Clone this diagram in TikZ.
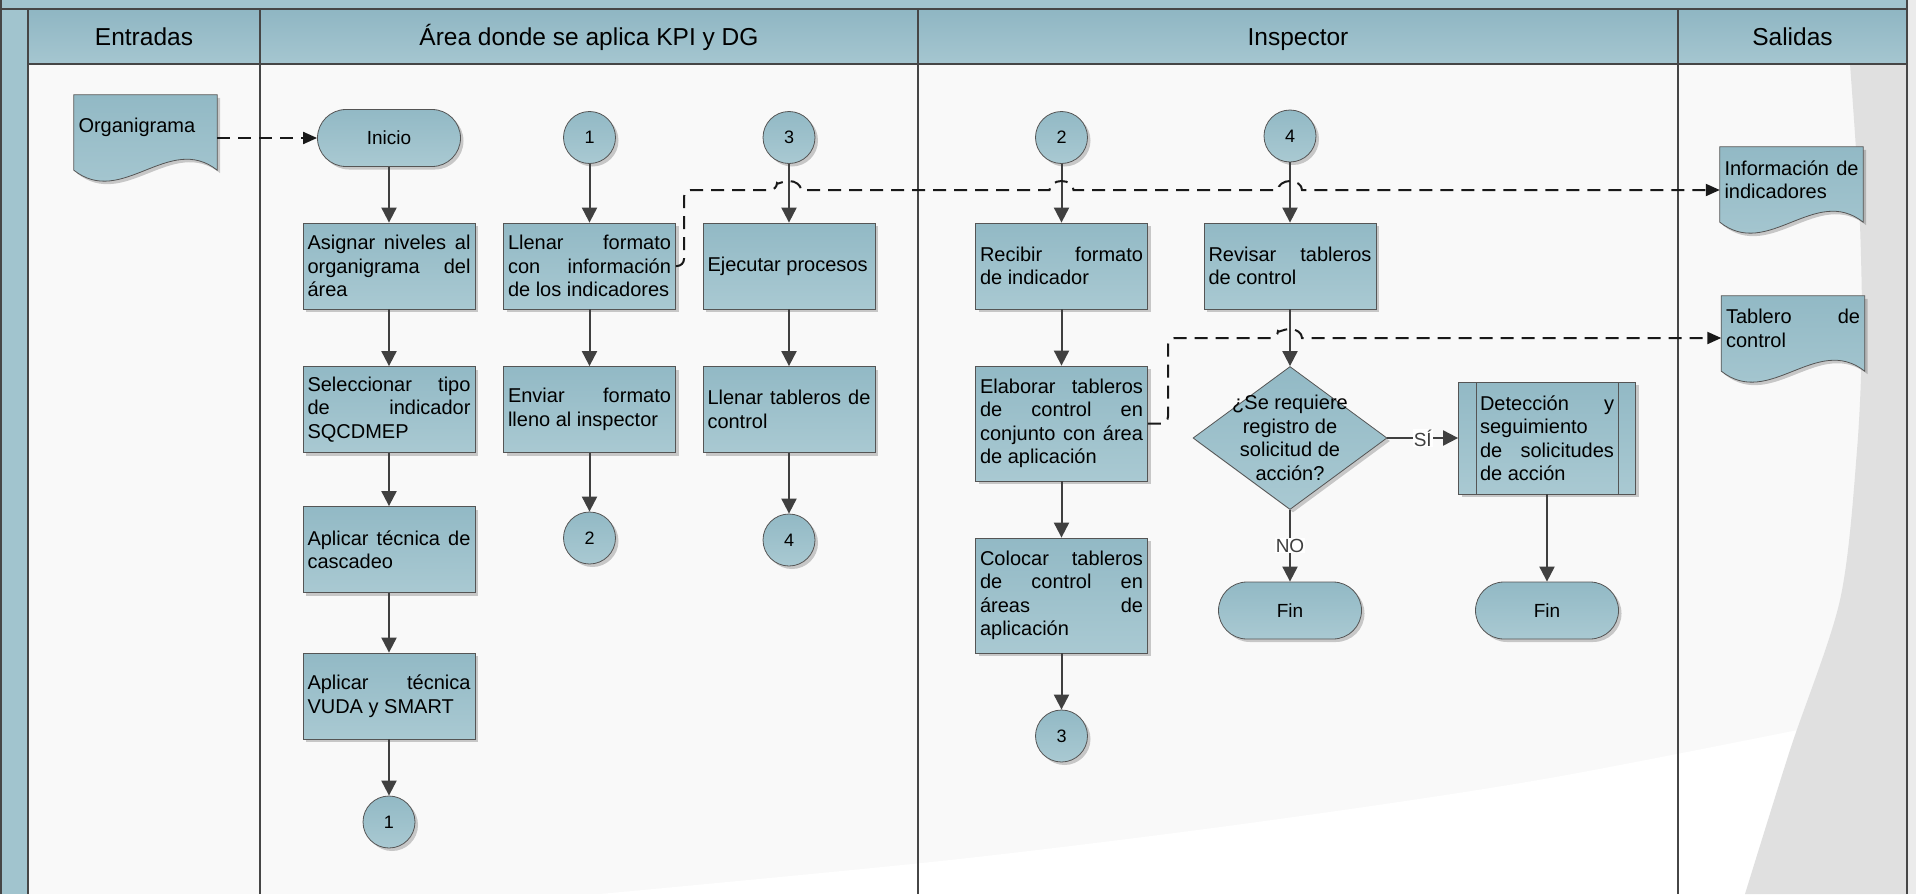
\documentclass[tikz,border=0pt]{standalone}
\usepackage{fontspec}
\setmainfont{Liberation Sans}
\usetikzlibrary{positioning,calc,arrows.meta,shapes.geometric,shadows}
\pgfdeclarelayer{back}
\pgfdeclarelayer{docs}
\pgfsetlayers{back,docs,main}
\setlength{\parindent}{0pt}

\definecolor{hdrtop}{RGB}{143,182,195}
\definecolor{hdrbot}{RGB}{165,198,208}
\definecolor{boxtop}{RGB}{146,185,197}
\definecolor{boxbot}{RGB}{169,201,210}
\definecolor{boxline}{RGB}{85,85,85}
\definecolor{arrowgray}{RGB}{64,64,64}
\definecolor{lanegray}{RGB}{70,70,70}
\definecolor{pagebg}{RGB}{249,249,249}
\definecolor{swoosh}{RGB}{224,224,224}
\definecolor{rightgray}{RGB}{235,235,235}
\definecolor{bandblue}{RGB}{161,196,206}

\newcommand{\boxfont}{\fontsize{20}{23.5}\selectfont\hyphenpenalty=10000\tolerance=10000}
\newcommand{\termfont}{\fontsize{19}{22}\selectfont}
\newcommand{\connfont}{\fontsize{18}{21}\selectfont}
\newcommand{\hdrfont}{\fontsize{24.5}{29}\selectfont}
\newcommand{\labelfont}{\fontsize{19}{22}\selectfont}

% wavy bottom of a document node
\newcommand{\docwave}[1]{%
  \draw[docshape] (#1.north west) -- (#1.north east) -- ($(#1.south east)+(0,10)$)
    .. controls ($(#1.south east)+(-48,-28)$) and ($(#1.south west)+(48,48)$) .. ($(#1.south west)+(0,10)$) -- cycle;}

\begin{document}
\begin{tikzpicture}[x=1pt,y=-1pt,>={Triangle[length=15pt,width=15pt]}]

	\tikzstyle{flow}=[draw=boxline,line width=0.8pt,top color=boxtop,bottom color=boxbot,
	drop shadow={shadow xshift=3pt,shadow yshift=-3pt,fill=black,opacity=0.2},font=\boxfont,inner sep=0pt]
	\tikzstyle{box}=[flow,rectangle,minimum width=172pt,minimum height=86pt,text width=163pt,align=justify]
	\tikzstyle{tallbox}=[box,minimum height=115pt]
	\tikzstyle{terminal}=[flow,rectangle,rounded corners=28.5pt,minimum width=143pt,minimum height=57pt,font=\termfont]
	\tikzstyle{connector}=[flow,circle,minimum size=52pt,font=\connfont]
	\tikzstyle{decision}=[flow,diamond,minimum width=194pt,minimum height=143pt]
	\tikzstyle{dectext}=[font=\boxfont,align=center,inner sep=0pt]
	\tikzstyle{subproc}=[box,minimum width=177pt,minimum height=112pt,text width=134pt,
	path picture={\draw[boxline,line width=0.8pt]
		([xshift=17.5pt]path picture bounding box.north west) -- ([xshift=17.5pt]path picture bounding box.south west)
		([xshift=-17.5pt]path picture bounding box.north east) -- ([xshift=-17.5pt]path picture bounding box.south east);}]
	\tikzstyle{doc}=[rectangle,minimum width=143pt,minimum height=65pt,text width=134pt,align=justify,font=\boxfont,inner sep=0pt]
	\tikzstyle{docshape}=[flow]
	\tikzstyle{header}=[font=\hdrfont,anchor=base]
	\tikzstyle{lane}=[draw=lanegray,line width=1.6pt]
	\tikzstyle{flowline}=[arrowgray,line width=2pt,->]
	\tikzstyle{dashline}=[black!90,line width=2pt,dash pattern=on 13pt off 8pt,-{Triangle[length=14pt,width=12pt]}]
	\tikzstyle{branch}=[fill=white,inner sep=1pt,font=\labelfont]

	\useasboundingbox (0,0) rectangle (1916,894);

	% lanes
	\begin{pgfonlayer}{back}
		\fill[white] (0,0) rectangle (1916,894);
		\fill[pagebg] (28,64) rectangle (1907,894);
		\fill[white] plot[smooth] coordinates {(600,894) (950,860) (1250,823) (1550,778) (1907,708)} -- (1907,894) -- cycle;
		\fill[swoosh] plot[smooth] coordinates {(1850,64) (1859,200) (1862,330) (1857,450) (1840,600) (1790,750) (1745,894)} -- (1907,894) -- (1907,64) -- cycle;
		\fill[rightgray] (1907,0) rectangle (1916,894);
		\fill[bandblue] (0,0) rectangle (1907,9);
		\fill[bandblue] (0,9) rectangle (28,894);
		\shade[top color=hdrtop,bottom color=hdrbot] (28,9) rectangle (1907,64);
		\draw[lane] (0.8,0) -- (0.8,894);
		\draw[lane] (28,9) -- (28,894);
		\draw[lane] (0,9) -- (1907,9);
		\draw[lane] (28,64) -- (1907,64);
		\draw[lane] (260,9) -- (260,894);
		\draw[lane] (918,9) -- (918,894);
		\draw[lane] (1678,9) -- (1678,894);
		\draw[lane] (1907,0) -- (1907,894);
	\end{pgfonlayer}

	\node[header] (hentr) at (144,45) {Entradas};
	\node[header] (harea) at (589,45) {Área donde se aplica KPI y DG};
	\node[header] (hinsp) at (1298,45) {Inspector};
	\node[header] (hsal) at (1792.5,45) {Salidas};

	% Entradas:
	\node[doc] (org) at (145.5,127.5) {Organigrama};
	\begin{pgfonlayer}{docs}\docwave{org}\end{pgfonlayer}

	% Area:
	\node[terminal] (inicio) at (389,138) {Inicio};
	\node[box] (asig) at (389,266) {Asignar niveles al\linebreak organigrama del\linebreak área};
	\node[box] (sel) at (389,409.5) {Seleccionar tipo\linebreak de indicador\linebreak SQCDMEP};
	\node[box] (casc) at (389,549.5) {Aplicar técnica de\linebreak cascadeo};
	\node[box] (vuda) at (389,696) {Aplicar técnica\linebreak VUDA y SMART};
	\node[connector] (c1b) at (389,822) {1};

	\node[connector] (c1a) at (589.5,137.5) {1};
	\node[box] (llen) at (589.5,266) {Llenar formato\linebreak con información\linebreak de los indicadores};
	\node[box] (env) at (589.5,409.5) {Enviar formato\linebreak lleno al inspector};
	\node[connector] (c2a) at (589.5,538) {2};

	\node[connector] (c3a) at (789,137.5) {3};
	\node[box] (ejec) at (789,266) {Ejecutar procesos};
	\node[box] (lltab) at (789,409.5) {Llenar tableros de\linebreak control};
	\node[connector] (c4a) at (789,540) {4};

	% Inspector:
	\node[connector] (c2b) at (1061.5,137.5) {2};
	\node[box] (recib) at (1061.5,266) {Recibir formato\linebreak de indicador};
	\node[tallbox] (elab) at (1061.5,423.5) {Elaborar tableros\linebreak de control en\linebreak conjunto con área\linebreak de aplicación};
	\node[tallbox] (coloc) at (1061.5,595.5) {Colocar tableros\linebreak de control en\linebreak áreas de\linebreak aplicación};
	\node[connector] (c3b) at (1061.5,736) {3};

	\node[connector] (c4b) at (1290,136) {4};
	\node[box] (revis) at (1290,266) {Revisar tableros\linebreak de control};
	\node[decision,label={[dectext]center:{¿Se requiere\\registro de\\solicitud de\\acción?}}] (dec) at (1290,438) {};
	\node[terminal] (fin1) at (1290,610.5) {Fin};
	\node[subproc] (det) at (1547,438) {Detección y\linebreak seguimiento\linebreak de solicitudes\linebreak de acción};
	\node[terminal] (fin2) at (1547,610.5) {Fin};

	% Salidas:
	\node[doc] (inf) at (1791.5,179.5) {Información de\linebreak indicadores};
	\node[doc] (tab) at (1793,328.5) {Tablero de\linebreak control};
	\begin{pgfonlayer}{docs}\docwave{inf}\docwave{tab}\end{pgfonlayer}

	\draw[flowline] (inicio) -- (asig);
	\draw[flowline] (asig) -- (sel);
	\draw[flowline] (sel) -- (casc);
	\draw[flowline] (casc) -- (vuda);
	\draw[flowline] (vuda) -- (c1b);
	\draw[flowline] (c1a) -- (llen);
	\draw[flowline] (llen) -- (env);
	\draw[flowline] (env) -- (c2a);
	\draw[flowline] (c3a) -- (ejec);
	\draw[flowline] (ejec) -- (lltab);
	\draw[flowline] (lltab) -- (c4a);
	\draw[flowline] (c2b) -- (recib);
	\draw[flowline] (recib) -- (elab);
	\draw[flowline] (elab) -- (coloc);
	\draw[flowline] (coloc) -- (c3b);
	\draw[flowline] (c4b) -- (revis);
	\draw[flowline] (revis) -- (dec);
	\draw[flowline] (dec) -- node[branch] {NO} (fin1);
	\draw[flowline] (dec) -- node[branch] {SÍ} (det);
	\draw[flowline] (det) -- (fin2);

	\draw[dashline] (org.east |- inicio) -- (inicio);
	\draw[dashline] (llen.east) [rounded corners=7pt] -| (684,190) -- (777,190) [sharp corners]
		arc[start angle=180,end angle=0,x radius=12pt,y radius=9pt] -- (1049.5,190)
		arc[start angle=180,end angle=0,x radius=12pt,y radius=9pt] -- (1278,190)
		arc[start angle=180,end angle=0,x radius=12pt,y radius=9pt] -- (inf.west |- 0,190);
	\draw[dashline] (elab.east) [rounded corners=7pt] -| (1168,338) -- (1278,338) [sharp corners]
		arc[start angle=180,end angle=0,x radius=12pt,y radius=9pt] -- (tab.west |- 0,338);

\end{tikzpicture}
\end{document}
